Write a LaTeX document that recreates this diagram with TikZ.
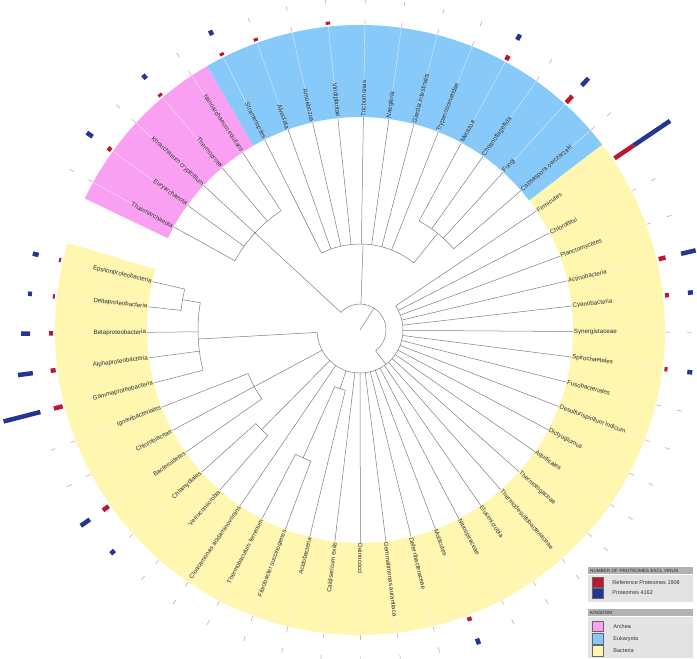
\documentclass[tikz,border=0pt]{standalone}
\usepackage{fontspec}
\setmainfont{Liberation Sans}
\usetikzlibrary{positioning}

\definecolor{archpink}{RGB}{250,160,242}
\definecolor{eukblue}{RGB}{135,202,250}
\definecolor{bactyellow}{RGB}{255,247,176}
\definecolor{refred}{RGB}{190,24,48}
\definecolor{protblue}{RGB}{38,52,150}
\definecolor{branchgray}{RGB}{125,125,125}

% clade: name, radius, first angle, last angle, node angle, parent radius
\newcommand{\clade}[6]{%
  \coordinate (#1) at (#5:#2);
  \coordinate (#1-stem) at (#5:#6);
  \coordinate (#1-first) at (#3:#2);
  \draw[branch] (#1-stem) -- (#1);
  \draw[branch] (#1-first) arc[start angle=#3, end angle=#4, radius=#2];
}
% kingdom band: colour, from angle, to angle
\newcommand{\kingdomband}[3]{%
  \fill[#1] (#2:213) arc[start angle=#2, end angle=#3, radius=213]
    -- (#3:305) arc[start angle=#3, end angle=#2, radius=305] -- cycle;
}

\begin{document}
\begin{tikzpicture}[
  x=1pt, y=1pt,
  branch/.style={draw=branchgray, line width=0.5pt},
  guide/.style={draw=black!6, line width=0.3pt},
  leaflabel/.style={inner sep=0.8pt, text=black!82, font=\fontsize{6.2}{7}\selectfont},
  refbar/.style={draw=refred, line width=4.5pt},
  protbar/.style={draw=protblue, line width=4.5pt},
  reftick/.style={draw=refred!35, line width=0.7pt},
  prottick/.style={draw=protblue!35, line width=0.7pt},
  % legend styles
  legendhead/.style={fill=gray!60, minimum width=105pt, minimum height=7pt,
    text width=101pt, align=left, inner sep=2pt, inner ysep=0pt,
    font=\fontsize{4.6}{5}\selectfont, text=black!85},
  legendbody/.style={fill=gray!22, minimum width=105pt, inner sep=0pt},
  keybox/.style={draw=black!60, line width=0.3pt, minimum width=11pt,
    minimum height=10.5pt, inner sep=0pt},
  keytext/.style={font=\fontsize{5.5}{6}\selectfont, text=black!80, inner sep=0pt}
]
\useasboundingbox (-360,-329) rectangle (337,330);

% Kingdom bands
\kingdomband{bactyellow}{37.44}{-196.58}
\kingdomband{archpink}{-205.53}{-239.94}
\kingdomband{eukblue}{-239.94}{-322.54}

% Inner tree
\coordinate (centre) at (0,0);
\clade{root}{26}{137.26}{-52.97}{57.41}{0}
\clade{arch}{143}{-208.97}{-236.50}{-222.74}{26}
\clade{euk}{86}{-243.38}{-308.78}{-272.06}{26}
\clade{opis}{124}{-298.45}{-319.10}{-308.78}{86}
\clade{bact}{43}{34}{-176.79}{-52.97}{26}
\clade{prot}{162}{-165.607}{-189.70}{-176.79}{43}
\clade{delep}{180}{-186.256}{-193.139}{-189.70}{162}
\clade{chlb}{120}{-144.958}{-158.724}{-151.841}{43}
\clade{pvc}{140}{-131.192}{-138.075}{-134.63}{43}
\clade{acid}{62}{-103.66}{-113.98}{-108.82}{43}
\clade{fibr}{140}{-110.543}{-117.426}{-113.98}{62}

% Leaves: name / slot / parent radius / label / reference bar / proteome bar
\foreach \n/\s/\pr/\txt/\rv/\bv in {
  firm/0/43/Firmicutes/23/44,
  chlx/1/43/Chloroflexi/0/0,
  plan/2/43/Planctomycetes/0/0,
  actn/3/43/Actinobacteria/7/15,
  cyan/4/43/Cyanobacteria/4/5,
  syne/5/43/Synergistaceae/0/0,
  spir/6/43/Spirochaetales/3/5,
  fuso/7/43/Fusobacteriales/0/0,
  desu/8/43/Desulfurispirillum indicum/0/0,
  dict/9/43/Dictyoglomus/0/0,
  aqui/10/43/Aquificales/0/0,
  ttog/11/43/Thermotogaceae/0/0,
  tdes/12/43/Thermodesulfobacteriaceae/0/0,
  elus/13/43/Elusimicrobia/0/0,
  nitr/14/43/Nitrospiraceae/0/0,
  moll/15/43/Mollicutes/4/6,
  defe/16/43/Deferribacteraceae/0/0,
  gemm/17/43/Gemmatimonas aurantiaca/0/0,
  dein/18/43/Deinococci/0/0,
  cald/19/43/Caldisericum exile/0/0,
  acdo/20/62/Acidobacteria/0/0,
  fbac/21/140/Fibrobacter succinogenes/0/0,
  tbac/22/140/Thermobaculum terrenum/0/0,
  cloa/23/43/Cloacamonas acidaminovorans/0/0,
  verr/24/140/Verrucomicrobia/0/0,
  chla/25/140/Chlamydiales/0/5,
  bcto/26/120/Bacteroidetes/7/11,
  chlr/27/120/Chlorobiaceae/0/0,
  igna/28/120/Ignavibacteriales/0/0,
  gamm/29/162/Gammaproteobacteria/9/38,
  alph/30/162/Alphaproteobacteria/5/15,
  beta/31/162/Betaproteobacteria/4/9,
  delt/32/180/Deltaproteobacteria/2/4,
  epsi/33/180/Epsilonproteobacteria/2/6,
  thau/35.3/143/Thaumarchaeota/0/0,
  eury/36.3/143/Euryarchaeota/4/7,
  kora/37.3/143/Korarchaeum cryptofilum/0/0,
  tpro/38.3/143/Thermoprotei/3/5,
  nano/39.3/143/Nanoarchaeum equitans/0/0,
  stra/40.3/86/Stramenopiles/3/5,
  alve/41.3/86/Alveolata/3/0,
  amoe/42.3/86/Amoebozoa/0/0,
  viri/43.3/86/Viridiplantae/3/0,
  tric/44.3/86/Trichomonas/0/0,
  naeg/45.3/86/Naegleria/0/0,
  giar/46.3/86/Giardia intestinalis/0/0,
  tryp/47.3/86/Trypanosomatidae/0/0,
  meta/48.3/124/Metazoa/5/6,
  chao/49.3/124/Choanoflagellida/0/0,
  fung/50.3/124/Fungi/9/10,
  caps/51.3/124/Capsaspora owczarzaki/0/0}{
  \pgfmathsetmacro{\ang}{34-\s*6.883}
  \pgfmathsetmacro{\rot}{\ang+180}
  \pgfmathtruncatemacro{\flip}{and(\ang<-90,\ang>-270)}
  \coordinate (f-\n) at (\ang:\pr);
  \coordinate (l-\n) at (\ang:213);
  \coordinate (o-\n) at (\ang:305);
  \draw[guide] (l-\n) -- (o-\n);
  \draw[branch] (f-\n) -- (l-\n);
  \ifnum\flip=1
    \node[leaflabel, anchor=east, rotate=\rot] (t-\n) at (l-\n) {\txt};
  \else
    \node[leaflabel, anchor=west, rotate=\ang] (t-\n) at (l-\n) {\txt};
  \fi
  % data bars
  \ifnum\rv>0
    \pgfmathsetmacro{\rend}{307+\rv}
    \draw[refbar] (\ang:307) -- (\ang:\rend);
  \else
    \draw[reftick] (\ang:305.5) -- (\ang:310.5);
  \fi
  \ifnum\bv>0
    \pgfmathsetmacro{\bend}{330+\bv}
    \draw[protbar] (\ang:330) -- (\ang:\bend);
  \else
    \draw[prottick] (\ang:327) -- (\ang:332);
  \fi
}

% Legend: proteome counts
\node[legendhead, anchor=north west] (head1) at (228,-237) {NUMBER OF PROTEOMES EXCL VIRUS};
\node[legendbody, minimum height=27pt, below=0pt of head1] (body1) {};
\node[keybox, fill=refred, below right=2.5pt and 4pt of head1.south west, anchor=north west] (kref) {};
\node[keybox, fill=protblue, below=0pt of kref] (kprot) {};
\node[keytext, right=9pt of kref] (tref) {Reference Proteomes 1908};
\node[keytext, right=9pt of kprot] (tprot) {Proteomes 4162};

% Legend: kingdom
\node[legendhead, anchor=north west] (head2) at (228,-279) {KINGDOM};
\node[legendbody, minimum height=41pt, below=0pt of head2] (body2) {};
\node[keybox, fill=archpink, below right=4.5pt and 4pt of head2.south west, anchor=north west] (karch) {};
\node[keybox, fill=eukblue, below=1.5pt of karch] (keuk) {};
\node[keybox, fill=bactyellow, below=1pt of keuk] (kbact) {};
\node[keytext, right=10pt of karch] (tarch) {Archea};
\node[keytext, right=10pt of keuk] (teuk) {Eukaryota};
\node[keytext, right=10pt of kbact] (tbact) {Bacteria};

\end{tikzpicture}
\end{document}
